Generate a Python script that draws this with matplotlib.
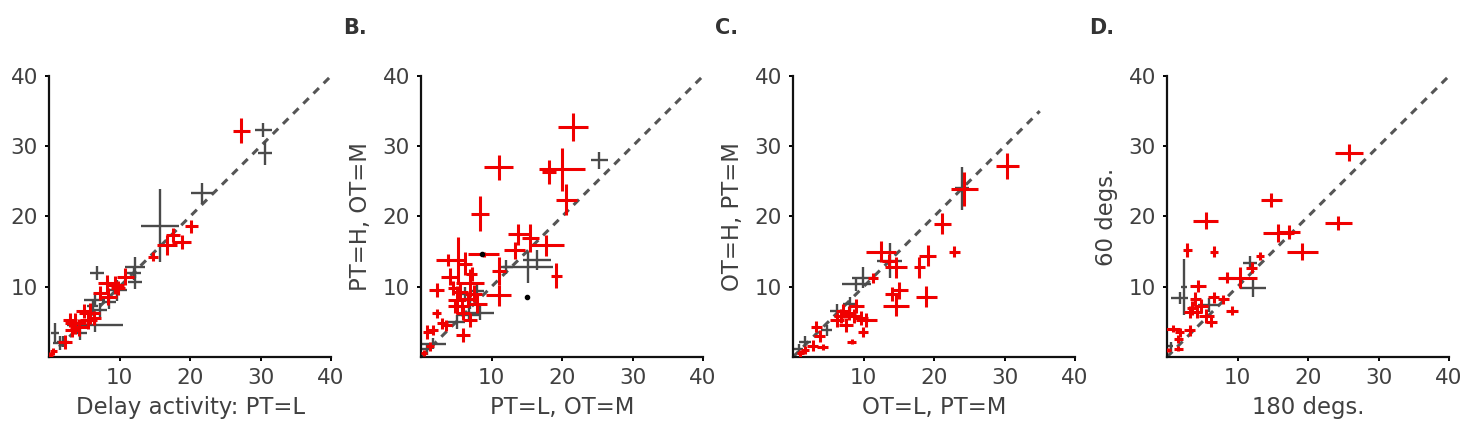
import matplotlib
matplotlib.use('Agg')
import matplotlib.pyplot as plt
import numpy as np

plt.rcParams.update({'font.family': 'DejaVu Sans', 'font.size': 15.5})

# each row: x, y, xerr, yerr
a_gray = [(30.4, 32.3, 1.2, 1.0), (30.6, 29.1, 1.0, 1.7), (21.7, 23.3, 1.5, 1.5),
          (15.7, 18.7, 2.7, 5.2), (12.2, 12.8, 1.4, 1.5), (12.2, 10.7, 1.0, 1.0),
          (6.8, 11.9, 1.0, 1.0), (6.5, 8.1, 1.5, 1.0), (6.5, 4.5, 4.0, 1.0),
          (9.6, 9.5, 1.5, 1.5), (7.2, 6.7, 1.0, 1.0), (4.4, 3.4, 1.0, 1.0),
          (0.85, 3.4, 0.6, 1.5), (1.6, 2.0, 1.0, 1.0), (2.0, 2.2, 0.8, 0.8),
          (6.2, 7.2, 0.8, 0.8), (12.0, 12.0, 1.0, 1.0), (8.5, 7.8, 1.0, 1.0)]
a_red = [(27.3, 32.2, 1.2, 1.8), (20.2, 18.6, 0.9, 0.9), (18.8, 16.4, 1.4, 1.0),
         (17.6, 17.4, 1.0, 1.0), (16.7, 15.9, 1.4, 1.4), (14.8, 14.3, 0.7, 0.7),
         (10.8, 11.4, 1.2, 1.2), (9.4, 10.2, 1.3, 1.3), (8.2, 10.5, 1.2, 1.2),
         (8.4, 8.6, 1.2, 1.2), (7.2, 9.1, 1.0, 1.0), (5.8, 6.2, 1.5, 1.5),
         (5.6, 5.2, 1.2, 1.2), (4.9, 6.6, 1.0, 1.0), (3.7, 4.8, 1.5, 1.5),
         (3.0, 5.2, 1.0, 1.0), (3.2, 3.9, 1.0, 1.0), (2.3, 2.2, 1.0, 1.0),
         (0.6, 0.8, 0.5, 0.5), (0.1, 0.3, 0.4, 0.4), (4.2, 4.2, 1.2, 1.2),
         (6.4, 5.6, 1.0, 1.0), (9.8, 9.8, 1.0, 1.0)]

b_gray = [(25.3, 28.0, 1.2, 1.2), (16.5, 13.8, 2.0, 1.4), (15.2, 12.8, 3.5, 2.2),
          (12.0, 12.8, 1.0, 1.0), (8.4, 6.2, 1.9, 1.0), (7.0, 8.1, 1.2, 1.2),
          (5.1, 5.0, 1.2, 1.0), (1.7, 1.9, 1.9, 0.8), (0.8, 1.1, 0.8, 0.8),
          (6.2, 8.9, 1.0, 1.0), (7.9, 9.4, 1.0, 1.0), (6.8, 6.0, 1.5, 1.0)]
b_red = [(21.6, 32.8, 2.1, 2.0), (11.0, 27.0, 2.0, 1.8), (18.2, 26.3, 1.0, 1.7),
         (20.0, 26.7, 3.3, 3.0), (20.6, 22.4, 1.5, 2.2), (8.4, 20.4, 1.3, 2.5),
         (19.2, 11.6, 0.8, 1.8), (17.8, 15.9, 2.5, 1.5), (13.8, 17.5, 1.5, 1.5),
         (15.5, 16.9, 1.2, 2.0), (13.3, 15.2, 1.5, 1.2), (11.0, 12.3, 1.0, 2.0),
         (11.0, 8.8, 1.8, 1.5), (8.9, 14.6, 2.2, 0.3), (2.2, 9.5, 1.0, 1.0),
         (2.2, 6.2, 0.6, 0.6), (1.7, 3.8, 0.7, 0.7), (0.9, 3.5, 0.6, 1.0),
         (3.6, 4.5, 0.8, 0.8), (6.0, 3.1, 1.0, 1.0), (4.1, 11.4, 1.2, 1.2),
         (5.1, 8.1, 1.2, 2.0), (5.8, 7.2, 1.0, 1.0), (7.0, 10.5, 2.0, 2.0),
         (7.5, 9.0, 1.2, 1.2), (6.2, 13.3, 1.0, 1.6), (5.3, 13.8, 0.8, 3.3),
         (3.9, 13.8, 1.8, 0.8), (7.9, 7.6, 1.4, 1.4), (6.0, 6.2, 1.0, 1.0),
         (4.8, 7.2, 1.0, 1.0), (1.3, 1.5, 0.6, 0.6), (0.4, 0.6, 0.4, 0.4),
         (7.0, 5.2, 1.0, 1.0), (5.6, 9.2, 1.0, 1.2), (6.6, 8.2, 1.0, 1.0),
         (4.6, 9.8, 0.8, 1.0), (3.0, 4.8, 0.8, 0.8), (7.2, 11.8, 0.8, 1.0)]
b_dots = [(8.6, 14.6), (15.0, 8.6)]

c_gray = [(24.0, 24.0, 1.0, 3.1), (13.7, 13.7, 1.8, 2.5), (9.9, 11.3, 1.5, 1.5),
          (9.0, 10.4, 2.0, 1.0), (8.1, 7.6, 1.0, 1.0), (6.2, 6.6, 1.0, 1.0),
          (4.8, 3.8, 0.8, 0.8), (1.7, 2.2, 0.8, 0.8), (0.8, 1.2, 0.6, 0.6)]
c_red = [(30.4, 27.2, 1.6, 1.8), (24.3, 23.9, 1.9, 2.4), (21.2, 19.0, 1.2, 1.5),
         (22.9, 15.0, 0.8, 0.8), (19.1, 14.4, 1.2, 1.5), (17.9, 12.8, 0.8, 1.5),
         (18.9, 8.6, 1.5, 1.5), (12.5, 15.0, 2.1, 1.5), (14.6, 12.8, 1.5, 1.5),
         (13.6, 13.7, 1.0, 1.0), (11.3, 11.3, 0.7, 0.7), (15.1, 9.5, 1.2, 1.2),
         (14.1, 9.0, 1.0, 1.0), (14.6, 7.3, 1.8, 1.5), (9.0, 7.3, 1.0, 1.0),
         (10.4, 5.2, 1.5, 1.0), (9.6, 5.6, 1.0, 1.0), (8.6, 5.8, 1.0, 1.0),
         (7.1, 6.6, 1.0, 1.0), (6.2, 5.2, 1.0, 1.0), (7.5, 4.5, 1.0, 1.0),
         (9.9, 3.5, 0.7, 0.7), (8.3, 2.2, 0.6, 0.4), (3.3, 4.3, 0.8, 0.8),
         (3.8, 3.0, 0.8, 0.8), (2.8, 1.6, 0.8, 0.8), (4.2, 1.4, 0.8, 0.4),
         (1.0, 0.5, 0.5, 0.5), (1.7, 1.0, 0.6, 0.6), (8.0, 6.2, 1.0, 1.0),
         (6.8, 5.8, 1.0, 1.0)]

d_gray = [(2.4, 10.0, 0.4, 4.0), (1.8, 8.4, 1.2, 0.8), (11.8, 13.4, 1.0, 1.0),
          (12.2, 9.8, 1.9, 1.2), (5.9, 7.4, 1.5, 1.0), (0.5, 1.5, 0.4, 0.6)]
d_red = [(25.8, 29.1, 2.0, 1.2), (14.8, 22.4, 1.5, 1.0), (5.5, 19.4, 1.8, 1.2),
         (24.3, 19.1, 1.9, 1.0), (15.8, 17.7, 2.2, 1.3), (17.3, 17.8, 1.6, 1.0),
         (19.2, 15.0, 2.2, 1.2), (2.9, 15.2, 0.6, 1.0), (6.7, 15.0, 0.6, 0.8),
         (13.2, 14.4, 0.6, 0.6), (12.0, 12.7, 0.8, 0.8), (10.3, 11.3, 2.4, 1.5),
         (8.5, 11.3, 1.2, 0.8), (9.2, 6.6, 0.8, 0.6), (6.6, 8.5, 0.8, 0.8),
         (4.4, 10.1, 1.2, 0.8), (4.0, 8.2, 0.8, 1.0), (8.0, 8.2, 0.8, 0.6),
         (5.6, 5.9, 1.0, 1.0), (4.2, 6.4, 0.8, 0.8), (3.2, 6.4, 0.8, 0.8),
         (6.3, 5.0, 0.8, 0.8), (3.2, 3.8, 0.8, 0.8), (1.8, 3.5, 0.6, 0.6),
         (0.9, 4.0, 1.0, 0.5), (1.6, 2.6, 0.6, 0.6), (1.6, 1.2, 0.6, 0.4),
         (0.2, 1.0, 0.3, 0.3), (4.8, 7.2, 1.0, 1.0), (3.6, 7.0, 0.8, 1.0)]

panels = [('A.', 'Delay activity: PT=L', 'Delay activity: PT=H', a_gray, a_red, [], 40),
          ('B.', 'PT=L, OT=M', 'PT=H, OT=M', b_gray, b_red, b_dots, 40),
          ('C.', 'OT=L, PT=M', 'OT=H, PT=M', c_gray, c_red, [], 35),
          ('D.', '180 degs.', '60 degs.', d_gray, d_red, [], 40)]
lefts = [49, 421, 793, 1167]

W, H = 1468, 440
fig = plt.figure(figsize=(W / 100, H / 100), dpi=100)
txt = '#404040'
red = '#f00000'
gray = '#4a4a4a'

for (lab, xl, yl, g, r, dots, dmax), left in zip(panels, lefts):
    ax = fig.add_axes([left / W, 83 / H, 282 / W, 281 / H])
    ax.plot([0, dmax], [0, dmax], color='#555555', lw=2.2, dashes=(2.5, 2.2), zorder=1)
    g = np.array(g)
    ax.errorbar(g[:, 0], g[:, 1], xerr=g[:, 2], yerr=g[:, 3], fmt='none',
                ecolor=gray, elinewidth=1.7, capsize=0, zorder=2)
    r = np.array(r)
    ax.errorbar(r[:, 0], r[:, 1], xerr=r[:, 2], yerr=r[:, 3], fmt='none',
                ecolor=red, elinewidth=2.2, capsize=0, zorder=3)
    for dx, dy in dots:
        ax.plot(dx, dy, 'o', color='black', ms=3, zorder=4)
    ax.set_xlim(0, 40)
    ax.set_ylim(0, 40)
    ax.set_xticks([10, 20, 30, 40])
    ax.set_yticks([10, 20, 30, 40])
    for s in ['top', 'right']:
        ax.spines[s].set_visible(False)
    for s in ['left', 'bottom']:
        ax.spines[s].set_linewidth(1.6)
        ax.spines[s].set_color('#111111')
    ax.tick_params(direction='out', length=3, width=1.4, pad=5, labelcolor=txt,
                   labelsize=15.5)
    ax.set_xlabel(xl, fontsize=16.4, color=txt)
    ax.set_ylabel(yl, fontsize=16.4, color=txt)
    ax.xaxis.set_label_coords(0.5, -0.14)
    ax.yaxis.set_label_coords(-0.175, 0.5)
    fig.text((left - 78) / W, 1 - 28 / H, lab, fontsize=15, fontweight='bold',
             color='#333333', va='center', ha='left')

fig.savefig('out.png', dpi=100)
